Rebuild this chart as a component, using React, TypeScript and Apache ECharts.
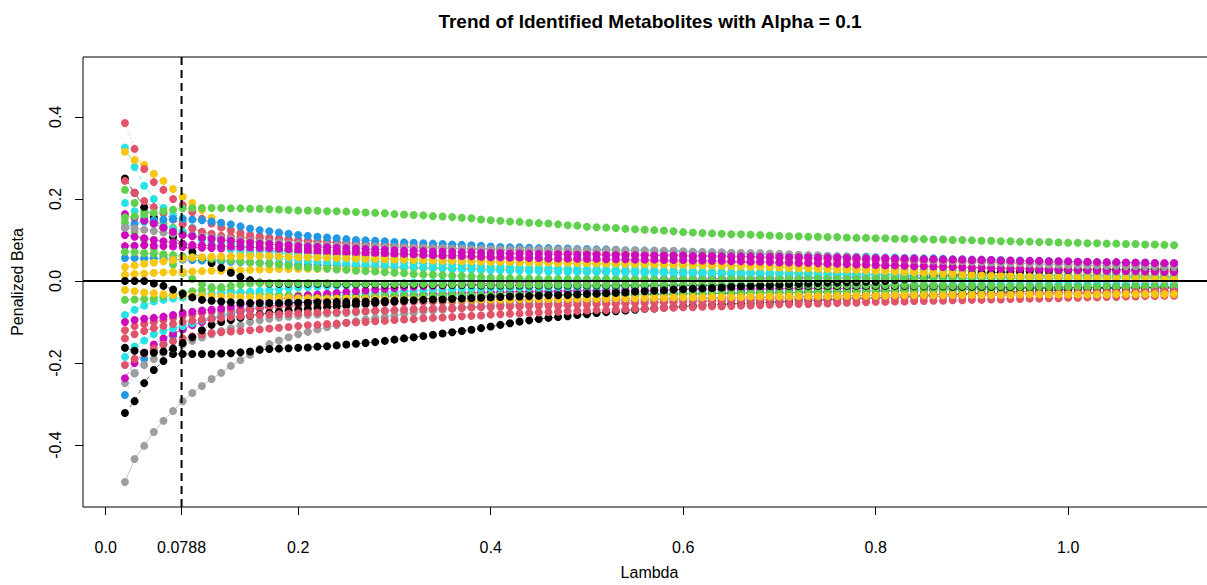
import React, { useEffect, useRef } from "react";
import * as echarts from "echarts";

// Lambda grid (x values of every point)
const lambda = [
  0.02, 0.03, 0.04, 0.05, 0.06, 0.07, 0.08, 0.09, 0.1, 0.11,
  0.12, 0.13, 0.14, 0.15, 0.16, 0.17, 0.18, 0.19, 0.2, 0.21,
  0.22, 0.23, 0.24, 0.25, 0.26, 0.27, 0.28, 0.29, 0.3, 0.31,
  0.32, 0.33, 0.34, 0.35, 0.36, 0.37, 0.38, 0.39, 0.4, 0.41,
  0.42, 0.43, 0.44, 0.45, 0.46, 0.47, 0.48, 0.49, 0.5, 0.51,
  0.52, 0.53, 0.54, 0.55, 0.56, 0.57, 0.58, 0.59, 0.6, 0.61,
  0.62, 0.63, 0.64, 0.65, 0.66, 0.67, 0.68, 0.69, 0.7, 0.71,
  0.72, 0.73, 0.74, 0.75, 0.76, 0.77, 0.78, 0.79, 0.8, 0.81,
  0.82, 0.83, 0.84, 0.85, 0.86, 0.87, 0.88, 0.89, 0.9, 0.91,
  0.92, 0.93, 0.94, 0.95, 0.96, 0.97, 0.98, 0.99, 1.0, 1.01,
  1.02, 1.03, 1.04, 1.05, 1.06, 1.07, 1.08, 1.09, 1.1, 1.11,
];

const xTicks = [0, 0.0788, 0.2, 0.4, 0.6, 0.8, 1.0];
const xTickLabels = ["0.0", "0.0788", "0.2", "0.4", "0.6", "0.8", "1.0"];
const yTicks = [-0.4, -0.2, 0, 0.2, 0.4];
const yTickLabels = ["-0.4", "-0.2", "0.0", "0.2", "0.4"];
const lambdaMin = 0.0788;
const zeroLine = 0;

// Penalized beta values, in thousandths (0.001 units)
const gy3 = [-490,-434,-402,-368,-341,-317,-293,-273,-256,-239,-224,-207,-193,-180,-166,-154,-145,-137,-130,-124,-118,-113,-108,-102,-98,-94,-91,-88,-84,-80,-77,-74,-72,-70,-68,-66,-64,-62,-60,-59,-58,-57,-56,-55,-54,-53,-52,-51,-50,-49,-48,-48,-47,-47,-46,-46,-45,-45,-44,-44,-43,-43,-42,-42,-41,-41,-40,-40,-39,-39,-38,-38,-37,-37,-37,-36,-36,-35,-35,-35,-34,-34,-34,-33,-33,-33,-32,-32,-32,-31,-31,-31,-30,-30,-30,-29,-29,-29,-28,-28,-28,-28,-27,-27,-27,-26,-26,-26,-25,-25];
const k3 = [-322,-293,-249,-217,-195,-178,-178,-178,-178,-178,-177,-176,-174,-172,-168,-166,-165,-164,-163,-162,-160,-159,-157,-155,-153,-151,-149,-146,-143,-140,-137,-134,-131,-128,-125,-122,-119,-115,-111,-107,-103,-99,-96,-93,-90,-88,-86,-83,-81,-78,-76,-74,-72,-70,-68,-67,-65,-64,-62,-61,-60,-59,-57,-56,-55,-54,-53,-52,-51,-50,-49,-48,-47,-46,-45,-44,-43,-42,-41,-40,-39,-38,-37,-36,-35,-34,-33,-32,-31,-30,-29,-28,-27,-26,-25,-24,-23,-22,-21,-20,-20,-19,-18,-18,-17,-16,-16,-15,-15,-14];
const b3 = [-278,-225,-190,-172,-155,-135,-115,-105,-97,-90,-84,-79,-74,-70,-66,-62,-58,-55,-52,-50,-48,-46,-45,-43,-42,-41,-40,-39,-38,-37,-36,-35,-34,-33,-33,-32,-31,-31,-30,-30,-29,-29,-28,-28,-27,-27,-27,-26,-26,-25,-25,-25,-24,-24,-24,-23,-23,-23,-22,-22,-22,-22,-21,-21,-21,-21,-20,-20,-20,-20,-20,-19,-19,-19,-19,-19,-18,-18,-18,-18,-18,-18,-17,-17,-17,-17,-17,-17,-16,-16,-16,-16,-16,-16,-16,-16,-15,-15,-15,-15,-15,-15,-15,-15,-15,-15,-15,-15,-15,-15];
const gy2 = [-249,-225,-205,-190,-175,-165,-155,-146,-138,-130,-122,-115,-108,-100,-96,-92,-89,-87,-85,-83,-82,-80,-79,-78,-77,-75,-74,-73,-71,-70,-69,-68,-67,-66,-65,-64,-63,-62,-61,-60,-59,-59,-58,-57,-57,-56,-56,-55,-54,-54,-53,-53,-52,-52,-51,-51,-50,-49,-49,-48,-48,-47,-47,-46,-46,-45,-45,-44,-44,-43,-43,-42,-42,-42,-41,-41,-40,-40,-40,-39,-39,-38,-38,-38,-37,-37,-36,-36,-36,-35,-35,-34,-34,-34,-33,-33,-33,-32,-32,-32,-32,-31,-31,-31,-31,-30,-30,-30,-30,-30];
const m5 = [-237,-200,-175,-155,-140,-128,-118,-108,-100,-93,-86,-80,-75,-70,-66,-62,-58,-55,-52,-49,-47,-45,-43,-41,-40,-38,-37,-36,-35,-34,-33,-32,-31,-31,-30,-29,-29,-28,-28,-27,-27,-26,-26,-25,-25,-25,-24,-24,-23,-23,-23,-22,-22,-22,-21,-21,-21,-21,-20,-20,-20,-20,-20,-19,-19,-19,-19,-19,-19,-18,-18,-18,-18,-18,-18,-18,-18,-17,-17,-17,-17,-17,-17,-17,-17,-17,-17,-17,-16,-16,-16,-16,-16,-16,-16,-16,-16,-16,-16,-16,-16,-16,-16,-16,-16,-16,-16,-16,-16,-16];
const c4 = [-185,-160,-145,-130,-122,-116,-110,-103,-96,-90,-84,-77,-70,-64,-60,-56,-52,-48,-44,-40,-38,-36,-34,-33,-31,-30,-29,-28,-26,-25,-24,-23,-22,-22,-21,-20,-20,-19,-18,-18,-17,-17,-16,-16,-16,-15,-15,-15,-14,-14,-14,-14,-13,-13,-13,-13,-12,-12,-12,-12,-12,-12,-11,-11,-11,-11,-11,-11,-10,-10,-10,-10,-10,-10,-10,-10,-9,-9,-9,-9,-9,-9,-9,-9,-9,-9,-9,-9,-8,-8,-8,-8,-8,-8,-8,-8,-8,-8,-8,-8,-8,-8,-8,-8,-8,-8,-8,-8,-8,-8];
const r4 = [-120,-110,-105,-100,-95,-90,-85,-82,-78,-75,-73,-71,-70,-68,-66,-64,-63,-62,-60,-59,-58,-57,-56,-55,-55,-54,-54,-53,-52,-52,-51,-51,-50,-50,-50,-49,-49,-49,-48,-48,-48,-47,-47,-47,-46,-46,-46,-45,-45,-45,-44,-44,-44,-43,-43,-43,-42,-42,-42,-41,-41,-41,-40,-40,-40,-39,-39,-39,-38,-38,-38,-37,-37,-37,-36,-36,-36,-35,-35,-35,-34,-34,-34,-33,-33,-33,-32,-32,-32,-31,-31,-31,-30,-30,-30,-30,-29,-29,-29,-29,-28,-28,-28,-28,-27,-27,-27,-27,-26,-26];
const r3 = [-205,-190,-177,-165,-155,-147,-140,-135,-130,-127,-125,-123,-122,-120,-118,-116,-114,-112,-110,-108,-107,-105,-104,-102,-101,-100,-98,-97,-95,-94,-93,-91,-90,-89,-88,-86,-85,-84,-82,-81,-80,-79,-78,-77,-76,-75,-74,-73,-72,-71,-71,-70,-69,-68,-68,-67,-66,-65,-64,-64,-63,-62,-62,-61,-60,-60,-59,-58,-57,-57,-56,-56,-55,-55,-54,-53,-53,-52,-51,-51,-50,-50,-49,-49,-48,-48,-47,-47,-46,-46,-45,-45,-44,-44,-43,-43,-42,-42,-41,-41,-40,-40,-39,-39,-38,-38,-37,-37,-36,-36];
const k4 = [-163,-170,-175,-175,-172,-165,-151,-137,-120,-107,-100,-95,-90,-85,-81,-78,-75,-72,-70,-68,-66,-64,-62,-60,-58,-56,-54,-52,-50,-48,-46,-44,-42,-41,-40,-39,-38,-37,-37,-36,-35,-34,-34,-34,-34,-34,-34,-33,-33,-33,-33,-33,-33,-32,-32,-32,-32,-32,-31,-31,-31,-31,-30,-30,-30,-29,-29,-29,-28,-28,-28,-27,-27,-27,-26,-26,-25,-25,-24,-24,-24,-23,-23,-22,-22,-22,-21,-21,-20,-20,-20,-19,-19,-19,-18,-18,-18,-17,-17,-17,-17,-16,-16,-16,-16,-15,-15,-15,-15,-15];
const g5 = [142,120,100,80,60,40,20,5,-8,-15,-20,-24,-27,-30,-32,-33,-34,-35,-35,-35,-36,-36,-36,-36,-36,-36,-36,-36,-36,-36,-36,-36,-36,-35,-35,-35,-35,-35,-35,-35,-35,-34,-34,-34,-34,-34,-34,-33,-33,-33,-33,-33,-33,-32,-32,-32,-32,-32,-31,-31,-31,-31,-30,-30,-30,-29,-29,-29,-28,-28,-28,-27,-27,-27,-26,-26,-25,-25,-24,-24,-24,-23,-23,-22,-22,-22,-21,-21,-20,-20,-20,-19,-19,-19,-18,-18,-18,-17,-17,-17,-17,-16,-16,-16,-16,-15,-15,-15,-15,-15];
const c3 = [-83,-70,-60,-50,-46,-43,-40,-36,-33,-31,-30,-29,-28,-26,-24,-22,-20,-18,-16,-15,-14,-13,-12,-11,-10,-9,-8,-7,-6,-5,-4,-4,-3,-2,-1,-1,0,1,2,2,3,3,3,3,4,4,4,4,4,4,5,5,5,5,5,5,5,5,5,5,5,6,6,6,6,6,6,6,6,6,6,6,6,6,6,6,6,6,6,6,6,6,6,6,6,6,6,6,6,6,6,6,6,6,6,6,6,6,6,6,6,6,6,6,6,6,6,6,6,6];
const m4 = [-100,-95,-92,-90,-87,-83,-78,-75,-72,-70,-67,-63,-58,-54,-50,-47,-44,-41,-38,-35,-33,-31,-29,-27,-25,-23,-21,-19,-17,-15,-14,-13,-12,-11,-10,-9,-8,-7,-6,-5,-4,-4,-3,-3,-2,-2,-1,-1,0,0,1,1,2,2,3,3,4,4,5,5,5,6,6,6,7,7,7,7,8,8,8,8,9,9,9,9,10,10,10,10,10,11,11,11,11,12,12,12,12,12,13,13,13,13,13,14,14,14,14,14,14,14,15,15,15,15,15,15,15,15];
const g3 = [222,190,170,155,140,130,120,112,105,100,96,92,88,85,82,79,76,73,70,68,67,65,64,63,61,60,59,57,55,54,53,52,51,50,50,49,48,48,47,46,46,45,45,44,44,43,43,42,42,41,41,40,40,40,39,39,39,38,38,38,37,37,36,36,36,35,35,34,34,34,33,33,32,32,32,31,31,30,30,29,29,28,28,28,27,27,26,26,26,25,25,25,24,24,23,23,23,22,22,22,21,21,21,21,20,20,20,20,20,20];
const m3 = [85,86,87,86,85,84,83,82,81,80,79,78,77,76,75,74,73,73,72,71,70,69,68,68,67,66,65,64,63,62,62,61,60,59,58,58,57,56,55,54,54,53,53,52,52,51,51,51,50,50,50,49,49,49,48,48,48,47,47,47,46,46,46,45,45,45,44,44,43,43,42,42,41,41,40,40,39,39,38,38,37,37,36,36,35,35,34,34,33,33,32,32,31,31,30,30,30,29,29,28,28,28,27,27,27,26,26,26,25,25];
const b2 = [56,56,55,55,54,53,52,51,50,49,48,47,46,45,44,43,42,41,40,39,39,38,37,37,36,35,35,34,33,33,32,32,31,31,30,29,29,28,27,27,27,26,26,26,25,25,25,24,24,24,23,23,23,22,22,22,21,21,20,20,20,19,19,19,19,18,18,18,18,17,17,17,17,16,16,16,16,15,15,15,15,14,14,14,14,13,13,13,13,12,12,12,12,12,11,11,11,11,11,11,11,11,10,10,10,10,10,10,10,10];
const y3 = [15,17,18,20,21,22,22,23,24,25,25,26,26,27,28,28,29,29,30,30,30,31,31,31,31,32,32,32,32,32,32,32,32,32,32,32,32,32,32,31,31,31,30,30,30,29,29,29,28,28,28,27,27,27,26,26,26,26,25,25,24,24,23,23,23,22,22,21,21,21,20,20,20,19,19,19,18,18,18,17,17,17,17,16,16,16,16,15,15,15,15,14,14,14,14,14,13,13,13,13,13,13,12,12,12,12,12,12,12,12];
const p2 = [325,278,232,200,178,160,145,130,118,108,100,93,86,80,76,72,69,66,62,60,58,56,54,53,51,50,49,47,46,45,44,43,42,41,40,39,38,37,35,35,34,33,32,32,31,30,30,29,28,28,27,27,26,26,25,25,24,24,23,23,22,22,22,21,21,21,20,20,20,19,19,19,18,18,18,17,17,17,16,16,16,16,15,15,15,15,14,14,14,14,13,13,13,13,12,12,12,12,12,11,11,11,11,11,10,10,10,10,10,9];
const c2 = [190,170,155,140,132,126,120,112,100,92,85,78,71,65,62,59,56,53,50,48,47,45,44,42,41,40,39,38,36,35,34,33,32,31,30,29,28,27,26,26,25,25,24,24,23,23,22,22,21,21,21,20,20,20,19,19,19,18,18,18,17,17,17,16,16,16,15,15,15,15,14,14,14,13,13,13,13,12,12,12,11,11,11,11,10,10,10,10,9,9,9,9,8,8,8,8,8,7,7,7,7,7,7,6,6,6,6,6,6,6];
const p3 = [315,295,283,261,244,224,205,190,173,154,137,125,110,100,94,89,85,82,80,78,77,75,74,73,72,71,70,69,67,66,65,64,63,62,61,60,59,58,57,57,56,55,54,54,53,52,52,51,50,50,49,49,48,48,47,47,46,46,45,44,44,43,43,42,42,41,41,40,40,39,39,39,38,38,37,37,37,36,36,35,35,35,34,34,34,33,33,33,32,32,32,31,31,31,30,30,30,29,29,29,29,28,28,28,27,27,27,26,26,25];
const p6 = [250,215,180,154,129,107,90,70,56,44,32,20,10,2,-4,-6,-7,-7,-7,-7,-7,-7,-8,-8,-8,-8,-8,-9,-9,-9,-9,-9,-10,-10,-10,-10,-10,-11,-11,-11,-11,-11,-11,-11,-11,-11,-11,-11,-11,-11,-11,-11,-11,-11,-11,-11,-11,-11,-11,-11,-11,-11,-11,-12,-12,-12,-12,-12,-12,-12,-12,-12,-12,-12,-12,-12,-12,-12,-12,-12,-12,-12,-13,-13,-13,-13,-14,-14,-14,-14,-14,-15,-15,-15,-15,-15,-15,-16,-16,-16,-16,-16,-16,-17,-17,-17,-17,-17,-17,-17];
const g4 = [-46,-45,-44,-42,-38,-34,-29,-25,-22,-18,-15,-12,-9,-6,-5,-5,-5,-5,-5,-5,-5,-5,-6,-6,-6,-6,-6,-7,-7,-7,-7,-7,-8,-8,-8,-8,-8,-9,-9,-9,-9,-9,-9,-9,-9,-9,-9,-9,-9,-9,-9,-9,-9,-9,-9,-9,-9,-9,-9,-9,-9,-9,-9,-10,-10,-10,-10,-10,-10,-10,-10,-10,-10,-10,-10,-10,-10,-10,-10,-10,-10,-10,-11,-11,-11,-11,-12,-12,-12,-12,-12,-13,-13,-13,-13,-13,-13,-14,-14,-14,-14,-14,-14,-15,-15,-15,-15,-15,-15,-15];
const r2 = [-140,-130,-122,-115,-110,-105,-100,-97,-94,-92,-90,-88,-86,-84,-83,-82,-81,-80,-79,-78,-77,-76,-76,-75,-74,-73,-72,-72,-71,-70,-69,-69,-68,-67,-67,-66,-65,-64,-64,-63,-62,-62,-61,-61,-60,-60,-59,-58,-58,-57,-56,-56,-55,-54,-54,-53,-52,-52,-51,-50,-50,-49,-49,-48,-48,-47,-47,-46,-46,-45,-45,-44,-44,-43,-43,-42,-42,-41,-41,-40,-40,-39,-39,-38,-38,-37,-37,-36,-36,-35,-35,-34,-34,-33,-33,-32,-32,-31,-31,-30,-30,-29,-29,-28,-28,-27,-27,-26,-25,-25];
const y4 = [-22,-25,-28,-30,-32,-34,-35,-36,-37,-37,-38,-38,-39,-39,-40,-40,-41,-41,-42,-42,-42,-43,-43,-43,-44,-44,-44,-45,-45,-45,-45,-45,-45,-45,-45,-45,-45,-45,-45,-45,-45,-44,-44,-44,-44,-44,-43,-43,-43,-43,-43,-42,-42,-42,-41,-41,-41,-40,-40,-40,-40,-39,-39,-39,-39,-38,-38,-38,-38,-38,-37,-37,-37,-37,-37,-36,-36,-36,-36,-36,-35,-35,-35,-35,-35,-35,-34,-34,-34,-34,-34,-34,-34,-33,-33,-33,-33,-33,-33,-33,-33,-33,-33,-32,-32,-32,-32,-32,-32,-32];
const k2 = [0,0,0,-6,-12,-21,-31,-40,-46,-48,-50,-52,-53,-54,-54,-54,-54,-53,-53,-53,-52,-52,-51,-51,-50,-50,-49,-49,-48,-47,-47,-46,-45,-45,-44,-43,-42,-41,-40,-39,-38,-38,-37,-36,-35,-35,-34,-33,-32,-31,-30,-29,-28,-26,-25,-24,-23,-21,-20,-19,-18,-17,-16,-14,-13,-12,-11,-10,-9,-8,-7,-6,-5,-4,-4,-3,-3,-2,-2,0,2,4,6,8,10,12,14,16,18,19,20,21,22,23,24,25,25,26,26,27,27,27,28,28,28,28,29,29,29,29];
const g2 = [71,70,68,67,65,63,60,58,56,54,52,50,48,46,44,42,40,38,35,33,31,30,28,27,25,24,23,21,20,19,17,16,15,14,13,12,11,10,8,8,7,6,6,5,5,5,4,4,4,4,4,3,3,3,3,3,3,3,3,3,3,3,4,4,4,4,4,4,4,4,5,5,5,5,5,5,5,5,6,6,6,6,6,6,7,7,7,7,7,7,7,8,8,8,8,8,8,8,8,8,8,8,8,8,8,8,8,8,8,8];
const y2 = [34,38,42,45,48,51,55,57,58,59,60,60,61,61,61,61,60,59,58,58,57,57,56,56,55,54,54,53,52,52,51,51,50,49,49,48,48,47,46,46,46,45,45,45,45,44,44,44,44,43,43,43,42,42,42,41,41,40,40,39,39,38,37,37,36,35,35,34,33,32,31,31,30,29,28,28,27,26,25,24,23,22,21,20,19,18,17,16,15,14,13,13,12,11,10,10,9,9,8,8,7,7,6,6,6,5,5,5,4,4];
const p4 = [244,215,195,180,165,150,138,128,120,115,110,108,106,105,104,102,101,100,98,97,96,95,94,93,92,91,90,89,88,87,86,85,84,83,82,81,80,79,78,77,76,75,75,74,73,72,71,71,70,69,68,68,67,66,66,65,64,64,63,62,62,61,61,60,59,59,58,58,57,57,56,56,55,55,54,54,53,53,52,52,51,51,50,50,50,49,49,49,48,48,47,47,47,46,46,46,45,45,45,44,44,44,43,43,43,42,42,42,41,41];
const p1 = [385,322,273,241,222,200,185,168,152,140,130,123,117,112,109,106,104,102,100,98,97,95,94,92,91,89,88,87,85,84,83,82,81,80,79,78,77,76,75,74,73,72,72,71,70,69,68,68,67,66,65,65,64,63,63,62,61,61,60,59,59,58,58,57,57,56,56,55,55,54,54,53,53,52,52,51,51,50,50,50,49,49,48,48,47,47,47,46,46,46,45,45,45,44,44,44,43,43,43,43,42,42,42,42,41,41,41,41,40,40];
const b1 = [130,140,145,148,150,151,152,150,148,145,142,138,133,128,124,121,118,115,112,110,108,106,104,102,100,99,98,97,95,94,93,92,91,90,89,88,87,86,84,83,82,82,81,80,80,79,79,78,78,77,77,76,75,75,74,74,73,73,72,71,70,70,69,68,67,67,66,65,64,64,63,62,62,61,60,60,59,59,58,57,57,56,56,55,55,54,53,53,52,52,51,51,50,50,49,49,48,48,47,47,46,46,45,45,44,44,43,43,42,42];
const m2 = [112,108,104,100,97,94,90,88,87,86,85,84,83,82,81,80,79,78,77,76,75,74,73,72,71,70,69,68,67,66,65,64,63,62,62,61,60,59,58,58,57,57,56,56,55,55,55,54,54,54,53,53,53,52,52,52,51,51,51,50,50,49,49,48,48,47,47,46,45,45,44,44,43,42,42,41,40,40,39,38,38,37,36,36,35,34,34,33,32,32,31,30,30,29,29,28,28,27,27,26,26,25,25,24,24,24,23,23,22,22];
const gy1 = [130,128,125,122,118,115,112,110,108,106,104,102,99,97,95,94,93,91,90,88,88,87,86,86,85,84,84,83,82,82,81,81,80,80,79,79,78,78,78,77,77,77,76,76,76,76,76,76,75,75,75,75,74,74,74,73,73,73,72,71,71,70,70,69,69,68,68,67,66,65,64,63,62,61,60,59,58,57,56,55,54,53,52,51,50,49,48,48,47,46,45,44,43,43,42,41,40,40,39,39,38,38,37,37,36,36,35,35,34,34];
const m1 = [163,155,148,140,130,120,112,109,105,103,100,98,95,93,91,90,88,87,85,84,83,82,81,80,79,78,77,76,75,74,74,73,72,72,71,70,70,69,68,68,67,67,66,66,65,65,65,64,64,64,63,63,63,63,62,62,62,62,62,61,61,61,60,60,60,60,59,59,59,58,58,58,57,57,57,56,56,55,55,55,54,54,54,53,53,52,52,52,51,51,51,50,50,49,49,49,48,48,48,47,47,46,46,46,45,45,45,44,44,44];
const p5 = [155,158,162,166,170,174,177,178,178,178,178,177,177,176,176,175,174,173,172,172,171,170,170,169,168,167,166,165,163,162,161,160,158,157,156,154,153,150,148,147,145,144,142,141,140,138,136,135,132,131,130,129,127,126,125,124,123,121,119,118,117,116,115,114,114,113,112,111,110,109,109,108,108,107,107,106,105,105,104,104,103,103,102,102,101,101,100,100,99,98,98,97,97,96,96,95,95,94,93,93,92,92,91,91,90,90,89,89,88,87];

// R default palette
const K = "#000000";
const R = "#DF536B";
const G = "#61D04F";
const B = "#2297E6";
const C = "#28E2E5";
const M = "#CD0BBC";
const Y = "#F5C710";
const GY = "#9E9E9E";

// draw order: first drawn = bottom
const seriesDefs = [
  { name: "m01", color: GY, values: gy3 },
  { name: "m02", color: K, values: k3 },
  { name: "m03", color: B, values: b3 },
  { name: "m04", color: GY, values: gy2 },
  { name: "m05", color: M, values: m5 },
  { name: "m06", color: C, values: c4 },
  { name: "m07", color: R, values: r4 },
  { name: "m08", color: R, values: r3 },
  { name: "m09", color: K, values: k4 },
  { name: "m10", color: G, values: g5 },
  { name: "m11", color: C, values: c3 },
  { name: "m12", color: M, values: m4 },
  { name: "m13", color: G, values: g3 },
  { name: "m14", color: M, values: m3 },
  { name: "m15", color: B, values: b2 },
  { name: "m16", color: Y, values: y3 },
  { name: "m17", color: C, values: p2 },
  { name: "m18", color: C, values: c2 },
  { name: "m19", color: Y, values: p3 },
  { name: "m20", color: K, values: p6 },
  { name: "m21", color: G, values: g4 },
  { name: "m22", color: R, values: r2 },
  { name: "m23", color: Y, values: y4 },
  { name: "m24", color: K, values: k2 },
  { name: "m25", color: G, values: g2 },
  { name: "m26", color: Y, values: y2 },
  { name: "m27", color: R, values: p4 },
  { name: "m28", color: R, values: p1 },
  { name: "m29", color: B, values: b1 },
  { name: "m30", color: M, values: m2 },
  { name: "m31", color: GY, values: gy1 },
  { name: "m32", color: M, values: m1 },
  { name: "m33", color: G, values: p5 },
];

const ltys: any[] = ["solid", [4, 4], [1, 3], [1, 3, 4, 3], [7, 3]];

const X_MIN = -0.0236;
const X_MAX = 1.1536;
const Y_MIN = -0.551;
const Y_MAX = 0.546;

const FONT = "'Liberation Sans', Arial, Helvetica, sans-serif";

export default function App() {
  const ref = useRef<HTMLDivElement>(null);

  useEffect(() => {
    if (!ref.current) return;
    const chart = echarts.init(ref.current, null, { renderer: "svg" });

    const dataSeries = seriesDefs.map((s, i) => ({
      type: "line",
      name: s.name,
      data: lambda.map((x, j) => [x, s.values[j] / 1000]),
      symbol: "circle",
      symbolSize: 8,
      showSymbol: true,
      showAllSymbol: true,
      silent: true,
      itemStyle: { color: s.color },
      lineStyle: { color: s.color, width: 1, opacity: 0.6, type: ltys[i % 5] },
      z: 2,
    }));

    const option: any = {
      animation: false,
      backgroundColor: "#ffffff",
      title: {
        text: "Trend of Identified Metabolites with Alpha = 0.1",
        left: 645,
        top: 7,
        textAlign: "center",
        textStyle: {
          fontFamily: FONT,
          fontWeight: "bold",
          fontSize: 19,
          color: "#000",
        },
      },
      grid: {
        left: 83,
        right: 1,
        top: 57,
        bottom: 78,
        show: true,
        borderColor: "#000",
        borderWidth: 1,
        backgroundColor: "transparent",
      },
      xAxis: {
        type: "value",
        min: X_MIN,
        max: X_MAX,
        splitLine: { show: false },
        axisLine: { show: false, onZero: false },
        axisTick: {
          show: true,
          customValues: xTicks,
          length: 8,
          lineStyle: { color: "#000", width: 1 },
        },
        axisLabel: {
          customValues: xTicks,
          formatter: (v: number) => {
            const i = xTicks.findIndex((t) => Math.abs(t - v) < 1e-6);
            return i >= 0 ? xTickLabels[i] : "";
          },
          fontFamily: FONT,
          fontSize: 16,
          color: "#000",
          margin: 32,
        },
        name: "Lambda",
        nameLocation: "middle",
        nameGap: 57,
        nameTextStyle: { fontFamily: FONT, fontSize: 16, color: "#000" },
      },
      yAxis: {
        type: "value",
        min: Y_MIN,
        max: Y_MAX,
        splitLine: { show: false },
        axisLine: { show: false, onZero: false },
        axisTick: {
          show: true,
          customValues: yTicks,
          length: 8,
          lineStyle: { color: "#000", width: 1 },
        },
        axisLabel: {
          customValues: yTicks,
          formatter: (v: number) => {
            const i = yTicks.findIndex((t) => Math.abs(t - v) < 1e-6);
            return i >= 0 ? yTickLabels[i] : "";
          },
          rotate: 90,
          align: "center",
          verticalAlign: "bottom",
          fontFamily: FONT,
          fontSize: 16,
          color: "#000",
          margin: 20,
        },
        name: "Penalized Beta",
        nameLocation: "middle",
        nameRotate: 90,
        nameGap: 58,
        nameTextStyle: { fontFamily: FONT, fontSize: 16, color: "#000" },
      },
      series: [
        ...dataSeries,
        {
          type: "line",
          name: "lambda.min",
          data: [
            [lambdaMin, Y_MIN],
            [lambdaMin, Y_MAX],
          ],
          symbol: "none",
          silent: true,
          lineStyle: { color: "#000", width: 2, type: [8, 5] },
          z: 5,
        },
        {
          type: "line",
          name: "zero",
          data: [
            [X_MIN, zeroLine],
            [X_MAX, zeroLine],
          ],
          symbol: "none",
          silent: true,
          lineStyle: { color: "#000", width: 2 },
          z: 5,
        },
      ],
    };

    chart.setOption(option);
    return () => chart.dispose();
  }, []);

  return (
    <div
      ref={ref}
      style={{
        position: "fixed",
        left: 0,
        top: 0,
        width: 1217,
        height: 585,
        background: "#fff",
      }}
    />
  );
}
